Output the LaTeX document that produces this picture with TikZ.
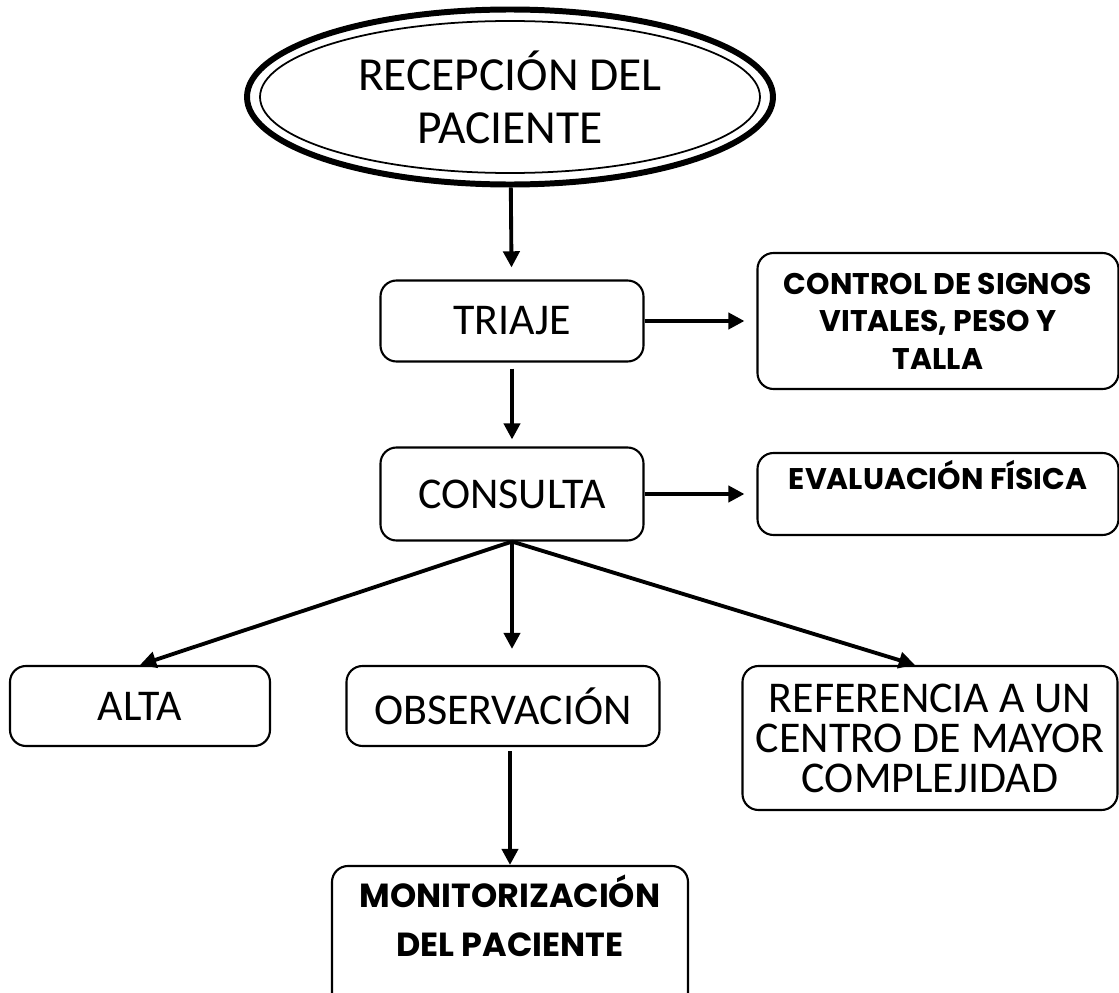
\documentclass[tikz,border=0pt]{standalone}
\usepackage{fontspec}
\setmainfont{Carlito}
\newfontfamily\gruesa{Poppins}
\usetikzlibrary{arrows.meta,positioning,shapes.geometric}

\begin{document}
\begin{tikzpicture}[node distance=2cm,on grid,
        caja/.style={draw, rounded corners=0.16cm, line width=0.6pt, align=center, inner sep=0pt,
            font=\fontsize{12.5}{11.4}\selectfont},
        negra/.style={caja, font=\gruesa\bfseries\fontsize{8.5}{10.7}\selectfont},
        flecha/.style={-{Triangle[length=4.6pt,width=4.6pt]}, line width=1.1pt}]
        \useasboundingbox (0,0) rectangle (11.19,-9.93);
        \node[ellipse, draw, line width=1.7pt, minimum width=5.26cm, minimum height=1.75cm,
            align=center, font=\fontsize{13.5}{15}\selectfont] (recepcion) at (5.10,-0.97) {RECEPCIÓN DEL\\PACIENTE};
        \draw[line width=0.5pt] (recepcion.center) ellipse [x radius=2.5cm, y radius=0.76cm];
        \node[caja, minimum width=2.63cm, minimum height=0.81cm] (triaje) [below right=2.24cm and 0.02cm of recepcion] {TRIAJE};
        \node[negra, minimum width=3.61cm, minimum height=1.36cm] (control) [right=4.26cm of triaje] {CONTROL DE SIGNOS\\VITALES, PESO Y\\TALLA};
        \node[caja, minimum width=2.63cm, minimum height=0.93cm] (consulta) [below=1.73cm of triaje] {CONSULTA};
        \node[negra, minimum width=3.61cm, minimum height=0.82cm, text height=0.25cm, text depth=0.35cm] (evaluacion) [right=4.26cm of consulta] {EVALUACIÓN FÍSICA};
        \node[caja, minimum width=3.13cm, minimum height=0.80cm] (obs) [below left=2.12cm and 0.09cm of consulta] {OBSERVACIÓN};
        \node[caja, minimum width=2.60cm, minimum height=0.80cm] (alta) [left=3.63cm of obs] {ALTA};
        \node[caja, minimum width=3.75cm, minimum height=1.44cm] (referencia) [below right=0.32cm and 4.27cm of obs] {REFERENCIA A UN\\CENTRO DE MAYOR\\COMPLEJIDAD};
        \node[negra, minimum width=3.56cm, minimum height=1.44cm, text height=0.73cm, text depth=0.37cm,
            font=\gruesa\bfseries\fontsize{9.5}{13.7}\selectfont] (monitor) [below right=2.32cm and 0.07cm of obs] {MONITORIZACIÓN\\DEL PACIENTE};
        \path[flecha]
            (recepcion)
                edge [shorten >=0.12cm] (triaje)
            (triaje)
                edge [shorten >=0.12cm] (control)
                edge [shorten <=0.06cm, shorten >=0.07cm] (consulta)
            (consulta)
                edge [shorten >=0.12cm] (evaluacion)
            (consulta.south)
                edge (alta.north)
                edge [shorten >=0.16cm] (obs.north -| consulta.south)
                edge ([xshift=-0.15cm]referencia.north)
            (obs.south -| monitor.north)
                edge [shorten <=0.04cm] (monitor);
    \end{tikzpicture}
\end{document}
